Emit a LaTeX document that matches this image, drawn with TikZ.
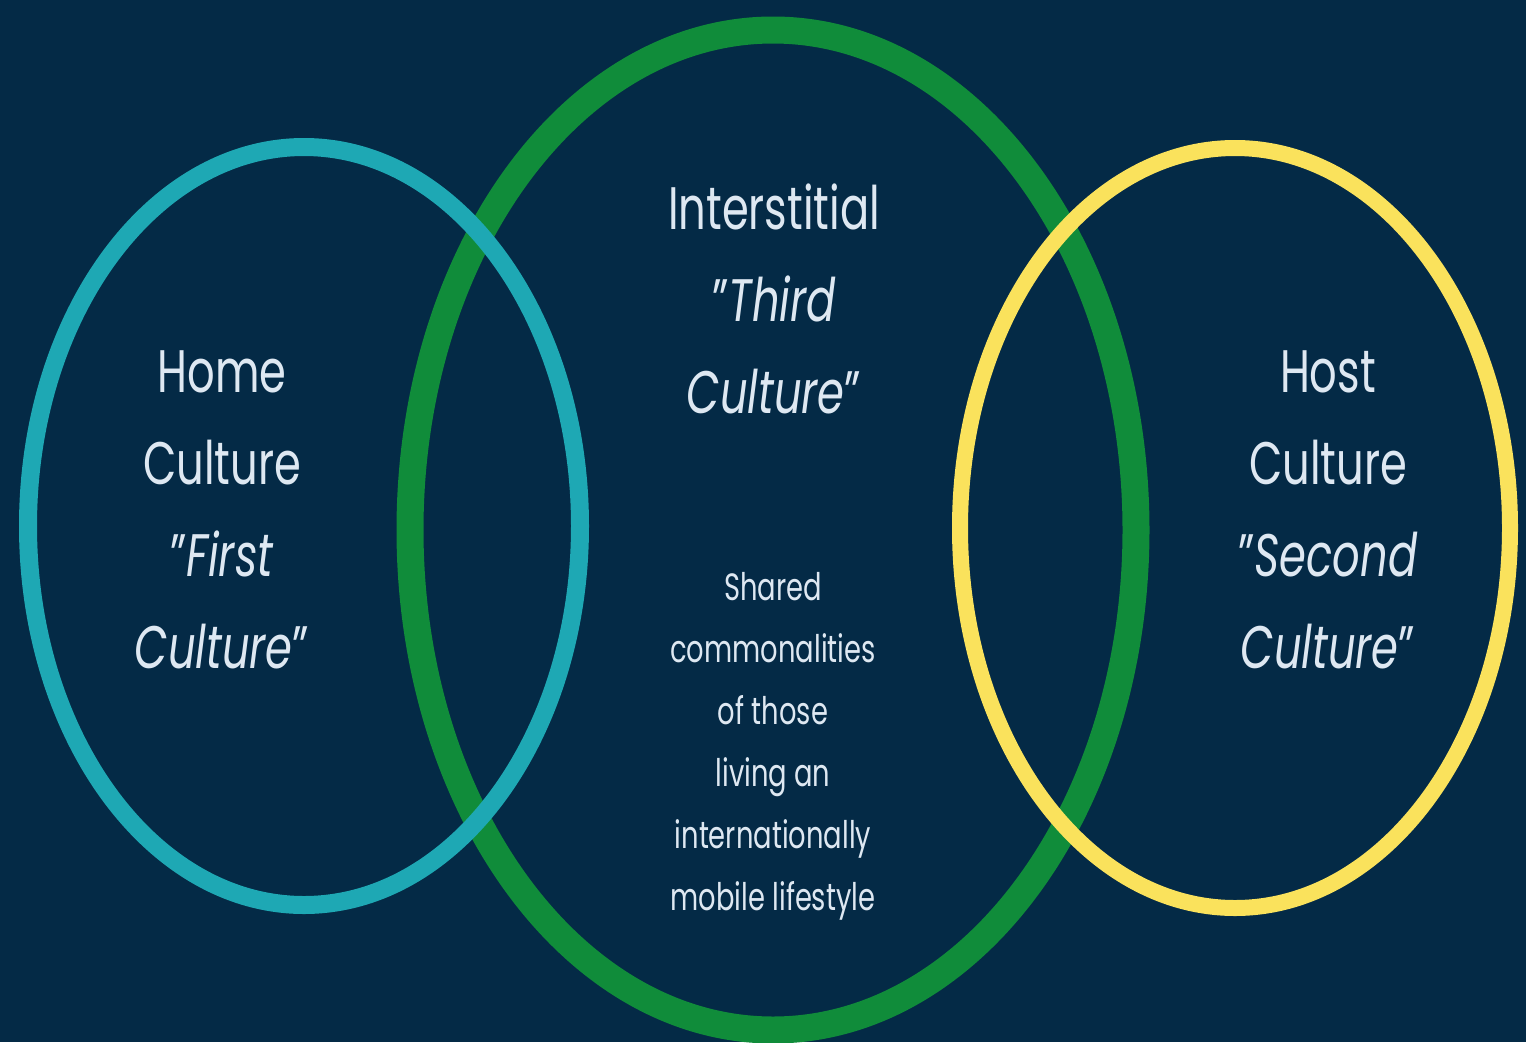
\documentclass[tikz,border=0pt]{standalone}
\usepackage{fontspec}
\setmainfont[FakeStretch=0.72]{Poppins}
\usetikzlibrary{shapes.geometric}
\definecolor{bgnavy}{RGB}{4,42,70}
\definecolor{tealring}{RGB}{30,168,180}
\definecolor{greenring}{RGB}{16,140,58}
\definecolor{yellowring}{RGB}{250,226,92}
\definecolor{txt}{RGB}{222,232,242}
\tikzset{
  ring/.style={ellipse, draw, inner sep=0pt},
  bigtext/.style={text=txt, align=center, font=\fontsize{60}{92}\selectfont, inner sep=0pt},
  smalltext/.style={text=txt, align=center, font=\fontsize{38}{62}\selectfont, inner sep=0pt},
}
\begin{document}
\begin{tikzpicture}[x=1pt,y=-1pt]
\fill[bgnavy] (0,0) rectangle (1526,1042);
\useasboundingbox (0,0) rectangle (1526,1042);
\node[ring, draw=greenring, line width=27pt, minimum width=726pt, minimum height=1000pt] (green) at (773,530) {};
\node[ring, draw=tealring, line width=18pt, minimum width=552pt, minimum height=758pt] (teal) at (304,526) {};
\node[ring, draw=yellowring, line width=16pt, minimum width=550pt, minimum height=760pt] (yellow) at (1235,528) {};
\node[bigtext, anchor=base] (home) at (222,668) {Home\\Culture\\"\textit{First}\\\textit{Culture}"};
\node[bigtext, anchor=base] (third) at (774,413) {Interstitial\\"\textit{Third}\\\textit{Culture}"};
\node[smalltext, anchor=base] (shared) at (773,910) {Shared\\commonalities\\of those\\living an\\internationally\\mobile lifestyle};
\node[bigtext, anchor=base] (host) at (1328,668) {Host\\Culture\\"\textit{Second}\\\textit{Culture}"};
\end{tikzpicture}
\end{document}
